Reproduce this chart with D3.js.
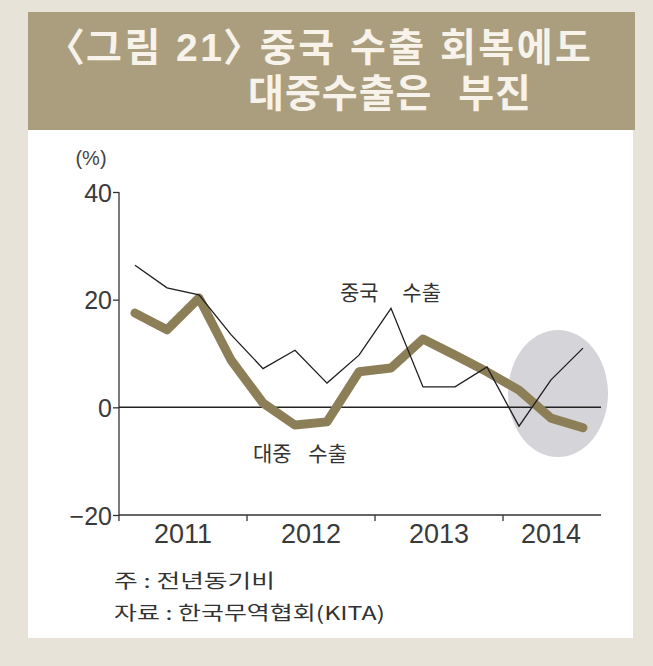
<!DOCTYPE html>
<html>
<head>
<meta charset="utf-8">
<script src="https://cdn.jsdelivr.net/npm/d3@7"></script>
<style>
html,body{margin:0;padding:0;background:#e8e3d8;}
svg{display:block;}
.title{font-feature-settings:"palt" 1;}
</style>
</head>
<body>
<svg id="chart" width="653" height="666"></svg>
<script>
const quarters = ["2011Q1","2011Q2","2011Q3","2011Q4","2012Q1","2012Q2","2012Q3","2012Q4","2013Q1","2013Q2","2013Q3","2013Q4","2014Q1","2014Q2","2014Q3"];
const chinaExports = [26.4, 22.2, 20.9, 13.5, 7.2, 10.6, 4.5, 9.7, 18.4, 3.8, 3.8, 7.5, -3.5, 5.1, 11.0];
const exportsToChina = [17.5, 14.4, 20.3, 8.8, 0.8, -3.3, -2.7, 6.6, 7.3, 12.7, 9.7, 6.6, 3.2, -2.0, -3.8];
const years = ["2011","2012","2013","2014"];
const yearStart = [0, 4, 8, 12];
const yearEnd = [4, 8, 12, 15];
const yTicks = [-20, 0, 20, 40];
const titleLines = ["〈그림 21〉 중국 수출 회복에도", "대중수출은 부진"];
const seriesLabels = ["중국 수출", "대중 수출"];
const notes = ["주 : 전년동기비", "자료 : 한국무역협회(KITA)"];

const svg = d3.select("#chart");
const font = "'Liberation Sans', Arial, sans-serif";
const kfont = "'Noto Sans CJK KR', 'Noto Sans', sans-serif";
const tfont = "'Liberation Sans', 'Noto Sans CJK KR', sans-serif";

// background panels
svg.append("rect").attr("x",0).attr("y",0).attr("width",653).attr("height",666).attr("fill","#e8e3d8");
svg.append("rect").attr("x",28).attr("y",130).attr("width",605).attr("height",508).attr("fill","#ffffff");
svg.append("rect").attr("x",28).attr("y",12).attr("width",607).attr("height",118).attr("fill","#ab9e7e");

// title
svg.append("text").attr("class","title").attr("x",64).attr("y",61).attr("fill","#f7f3ea")
  .attr("font-family",tfont).attr("font-size",39).attr("font-weight",700)
  .attr("textLength",527).attr("lengthAdjust","spacing").text(titleLines[0]);
svg.append("text").attr("x",248).attr("y",107).attr("fill","#f7f3ea")
  .attr("font-family",tfont).attr("font-size",39).attr("font-weight",700)
  .attr("letter-spacing",1).attr("word-spacing",14).text(titleLines[1]);

// scales
const x = d3.scaleLinear().domain([0,15]).range([119,599]);
const y = d3.scaleLinear().domain([-20,40]).range([515,192]);

// highlight ellipse
svg.append("ellipse").attr("cx",558).attr("cy",393.5).attr("rx",50).attr("ry",63.5).attr("fill","#d5d5d9");

// y axis
const yAxis = d3.axisLeft(y).tickValues(yTicks).tickSize(6).tickPadding(1)
  .tickFormat(d => d < 0 ? "\u2212" + Math.abs(d) : d);
const gy = svg.append("g").attr("transform",`translate(${x(0)},0)`).call(yAxis);
gy.select(".domain").attr("stroke","#333").attr("stroke-width",1.3).attr("d",`M-0,${y(40)}V${y(-20)}`);
gy.selectAll(".tick line").attr("stroke","#333").attr("stroke-width",1.3);
gy.selectAll(".tick text").attr("font-family",font).attr("font-size",25).attr("fill","#3a3a3a").attr("dy","0.36em");

// x axis
const gx = svg.append("g").attr("transform",`translate(0,${y(-20)})`);
gx.append("line").attr("x1",x(0)).attr("x2",x(15)+2).attr("y1",0).attr("y2",0).attr("stroke","#333").attr("stroke-width",1.3);
gx.selectAll("line.tk").data(yearStart).join("line").attr("class","tk")
  .attr("x1",d=>x(d)).attr("x2",d=>x(d)).attr("y1",0).attr("y2",6).attr("stroke","#333").attr("stroke-width",1.3);
gx.selectAll("text").data(years).join("text")
  .attr("x",(d,i)=>x((yearStart[i]+yearEnd[i])/2)).attr("y",28)
  .attr("text-anchor","middle").attr("font-family",font).attr("font-size",27).attr("fill","#3a3a3a").text(d=>d);

// zero line
svg.append("line").attr("x1",x(0)).attr("x2",x(15)+2).attr("y1",y(0)).attr("y2",y(0)).attr("stroke","#222").attr("stroke-width",1.5);

// lines
const line = d3.line().x((d,i)=>x(i+0.5)).y(d=>y(d));
svg.append("path").datum(exportsToChina).attr("d",line).attr("fill","none")
  .attr("stroke","#8c7f58").attr("stroke-width",9).attr("stroke-linejoin","round").attr("stroke-linecap","round");
svg.append("path").datum(chinaExports).attr("d",line).attr("fill","none")
  .attr("stroke","#1e1e1e").attr("stroke-width",1.3).attr("stroke-linejoin","miter");

// labels
svg.append("text").attr("x",91).attr("y",165).attr("text-anchor","middle")
  .attr("font-family",font).attr("font-size",20).attr("fill","#444").text("(%)");
const labelPos = [[340, 300, 19], [253, 461, 12]];
seriesLabels.forEach((s,k)=>{
  svg.append("text").attr("x",labelPos[k][0]).attr("y",labelPos[k][1])
    .attr("font-family",kfont).attr("font-size",21).attr("fill","#333")
    .attr("word-spacing",labelPos[k][2]).text(s);
});

// notes
const noteLen = [161, 271];
svg.selectAll("text.note").data(notes).join("text").attr("class","note")
  .attr("x",114).attr("y",(d,i)=>588+i*32)
  .attr("font-family",kfont).attr("font-size",19).attr("fill","#333")
  .attr("textLength",(d,i)=>noteLen[i]).attr("lengthAdjust","spacingAndGlyphs").text(d=>d);
</script>
</body>
</html>
